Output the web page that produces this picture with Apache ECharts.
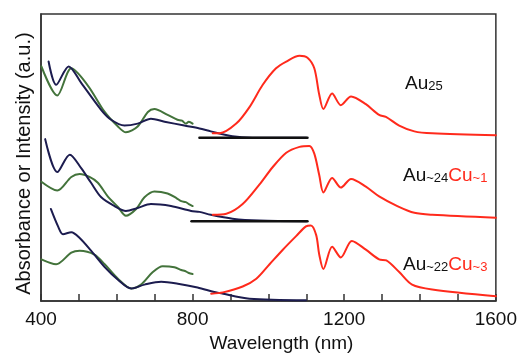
<!DOCTYPE html>
<html>
<head>
<meta charset="utf-8">
<script src="https://cdn.jsdelivr.net/npm/echarts@6/dist/echarts.min.js"></script>
<style>html,body{margin:0;padding:0;background:#fff}#c{width:520px;height:358px}</style>
</head>
<body>
<div id="c"></div>
<script>
// x values: wavelength (nm); y values: arbitrary units (stacked offsets as drawn)
const xTicks = [400, 800, 1200, 1600];

// Au25 (top)
const au25Abs = [[420,247],[440,223],[473,242],[506,225],[559,197],[585,187],[620,181],[655,183],[690,188],[726,185],[778,181],[818,178],[848,175],[905,170],[958,168.5],[1100,168.3]];
const au25Abs2 = [[401,242],[443,212],[480,240],[524,222],[568,195],[603,180],[624,174],[655,180],[682,195],[699,198],[734,192],[760,187],[772,186],[782,183],[790,185],[800,183]];
const au25Em = [[853,173],[871,173],[915,183],[950,200],[985,223],[1020,240],[1047,247],[1082,253],[1103,251],[1121,240],[1134,213],[1145,198],[1168,214],[1191,202],[1218,211],[1257,203],[1292,192],[1310,190],[1345,181],[1385,175],[1432,173],[1600,171]];
const au25Base = [[818,168.3],[1103,168.3]];

// Au~24Cu~1 (middle)
const au24Abs = [[411,167],[443,133],[476,151],[506,137],[532,122],[559,107],[594,98],[624,93],[655,96],[690,100],[743,98],[796,93],[818,92],[848,89],[905,85],[976,83],[1100,82.3]];
const au24Abs2 = [[401,123],[443,114],[480,128],[502,131],[528,128],[550,122],[576,108],[603,97],[624,88],[651,95],[673,107],[699,113],[734,111],[758,106],[770,103],[782,102],[790,100],[800,98]];
const au24Em = [[853,89],[889,90],[932,100],[976,120],[1011,138],[1047,153],[1082,159],[1108,160],[1121,152],[1134,130],[1145,112],[1168,127],[1191,117],[1218,126],[1257,118],[1292,108],[1340,98],[1385,91],[1432,89],[1600,86]];
const au24Base = [[797,82.3],[1103,82.3]];

// Au~22Cu~3 (bottom)
const au22Abs = [[426,95],[445,77],[458,69],[480,71],[502,65],[532,52],[568,35],[603,22],[638,13],[673,17],[717,20],[761,18],[813,14],[857,9.3],[871,8.3],[950,2.5],[1099,1]];
const au22Abs2 = [[401,43],[440,38],[480,50],[502,52],[541,48],[568,38],[603,23],[638,13],[664,17],[695,30],[721,36],[752,35],[770,32],[780,31],[790,29],[800,28]];
const au22Em = [[849,7.7],[880,9],[932,15],[968,23],[1003,38],[1038,53],[1073,67],[1099,77],[1112,78],[1126,68],[1134,48],[1145,33],[1168,56],[1191,45],[1220,62],[1257,53],[1292,43],[1311,42],[1345,30],[1379,17],[1432,12],[1600,5]];

const NAVY = '#1c1c4f', GREEN = '#43733b', RED = '#ff2a1c', BLACK = '#111';
const FONT = 'Liberation Sans, Arial, Helvetica, sans-serif';

function ln(data, color, w, z) {
  return {type:'line', data:data, symbol:'none', smooth:0.3,
    lineStyle:{color:color, width:w, cap:'round', join:'round'}, z:z, animation:false, silent:true};
}
function rich(black) {
  return {
    a:{fontFamily:FONT, fontSize:19, fill:'#111', lineHeight:24, verticalAlign:'bottom'},
    s:{fontFamily:FONT, fontSize:13, fill:'#111', lineHeight:24, verticalAlign:'bottom'},
    c:{fontFamily:FONT, fontSize:19, fill:RED, lineHeight:24, verticalAlign:'bottom'},
    t:{fontFamily:FONT, fontSize:13, fill:RED, lineHeight:24, verticalAlign:'bottom'}
  };
}

const chart = echarts.init(document.getElementById('c'), null, {renderer:'canvas'});
chart.setOption({
  animation:false,
  grid:{left:41, right:23, top:14, bottom:48, show:true, borderColor:'#333', borderWidth:1.5, backgroundColor:'transparent'},
  xAxis:{type:'value', min:400, max:1600, interval:100,
    name:'Wavelength (nm)', nameLocation:'middle', nameGap:27,
    nameTextStyle:{fontFamily:FONT, fontSize:19, color:'#111', padding:[0,0,0,26]},
    axisLine:{lineStyle:{color:'#333', width:1.5}},
    axisTick:{inside:true, length:7, lineStyle:{color:'#333', width:1.5}},
    splitLine:{show:false},
    axisLabel:{fontFamily:FONT, fontSize:19, color:'#111', margin:9,
      formatter:function(v){return xTicks.indexOf(v) >= 0 ? String(v) : '';}}
  },
  yAxis:{type:'value', min:0, max:296,
    name:'Absorbance or Intensity (a.u.)', nameLocation:'middle', nameGap:7, nameRotate:90,
    nameTextStyle:{fontFamily:FONT, fontSize:20, color:'#111', padding:[0,12,0,0]},
    axisLine:{show:true, lineStyle:{color:'#333', width:1.5}},
    axisTick:{show:false}, axisLabel:{show:false}, splitLine:{show:false}
  },
  series:[
    ln(au25Abs2, GREEN, 2, 2), ln(au24Abs2, GREEN, 2, 2), ln(au22Abs2, GREEN, 2, 2),
    ln(au25Abs, NAVY, 2, 3), ln(au24Abs, NAVY, 2, 3), ln(au22Abs, NAVY, 2, 3),
    ln(au25Base, BLACK, 2.5, 4), ln(au24Base, BLACK, 2.5, 4),
    ln(au25Em, RED, 2, 5), ln(au24Em, RED, 2, 5), ln(au22Em, RED, 2, 5)
  ],
  graphic:[
    {type:'text', left:405, top:74, style:{text:'{a|Au}{s|25}', rich:rich()}},
    {type:'text', left:403, top:166, style:{text:'{a|Au}{s|~24}{c|Cu}{t|~1}', rich:rich()}},
    {type:'text', left:403, top:255, style:{text:'{a|Au}{s|~22}{c|Cu}{t|~3}', rich:rich()}}
  ]
});
</script>
</body>
</html>
